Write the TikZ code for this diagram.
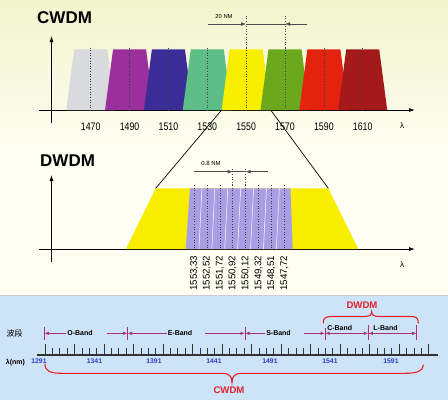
\documentclass[tikz,border=0pt]{standalone}
\usepackage{fontspec}
\setmainfont{Liberation Sans}
\setsansfont{Liberation Sans}
\newfontfamily\narrowsf[FakeStretch=0.8]{Liberation Sans}
\newfontfamily\cjkfont{Noto Sans CJK SC}
\usetikzlibrary{arrows.meta}

\begin{document}
\begin{tikzpicture}[x=1pt, y=-1pt, font=\sffamily,
  title/.style={font=\sffamily\bfseries\fontsize{17}{17}\selectfont, inner sep=0pt, anchor=west},
  chanline/.style={black!75, dotted, line width=0.6pt},
  axisline/.style={-{Latex[length=6pt,width=4pt]}, line width=0.8pt},
  dimline/.style={black!70, line width=0.45pt},
  dimtip/.style={dimline, -{Latex[length=5pt,width=3.6pt]}},
  bandline/.style={cBand, line width=0.8pt},
  bandtip/.style={bandline, -{Latex[length=4.5pt,width=3.5pt]}},
  bandtick/.style={cBand, line width=1pt},
  bandlbl/.style={font=\sffamily\bfseries\fontsize{7}{7}\selectfont, inner sep=1pt},
  scaletick/.style={black!80, line width=0.8pt},
  bracepath/.style={cBrace, line width=1.1pt, line cap=round},
  bracelbl/.style={font=\sffamily\bfseries\fontsize{9.6}{9.6}\selectfont, text=cBrace}]

% --- colors ---
\definecolor{cTop}    {HTML}{F1F4CC}
\definecolor{cMid}    {HTML}{FEFEF2}
\definecolor{cGray}   {HTML}{D9DADD}
\definecolor{cMagenta}{HTML}{9B2F9C}
\definecolor{cIndigo} {HTML}{3B2D98}
\definecolor{cTeal}   {HTML}{5DBE88}
\definecolor{cYellow} {HTML}{F7EE00}
\definecolor{cLime}   {HTML}{6BA81C}
\definecolor{cRed}    {HTML}{E4230F}
\definecolor{cDkRed}  {HTML}{A41A1A}
\definecolor{cLav}    {HTML}{A99DE3}
\definecolor{cPanel}  {HTML}{CDE3F8}
\definecolor{cBand}   {HTML}{A8326E}
\definecolor{cNum}    {HTML}{2C3FBF}
\definecolor{cBrace}  {HTML}{E82128}

\useasboundingbox (0,0) rectangle (448,400);

% --- background ---
\shade[top color=cTop, bottom color=cMid] (0,0) rectangle (448,150);
\fill[cMid] (0,150) rectangle (448,296);

% --- CWDM ---
\node[title] (cwdm) at (37,17.5) {CWDM};
\draw[axisline] (51.5,122.7) -- (51.5,36);
\draw[axisline] (39.3,110) -- (415,110);
\node[font=\sffamily\fontsize{8}{8}\selectfont] (lamA) at (402,126) {λ};

\foreach \wl/\col [count=\ci from 0] in
  {1470/cGray, 1490/cMagenta, 1510/cIndigo, 1530/cTeal,
   1550/cYellow, 1570/cLime, 1590/cRed, 1610/cDkRed}{%
  \pgfmathsetmacro{\cx}{90.7+\ci*38.86}
  \fill[\col] (\cx-24.5,110) -- (\cx-16.5,49.3) -- (\cx+16.5,49.3) -- (\cx+24.5,110) -- cycle;
  \draw[chanline] (\cx,47.5) -- (\cx,110);
  \coordinate (ch\wl) at (\cx,47.5);
  \coordinate (bl\wl) at (\cx-24.5,110);
  \coordinate (br\wl) at (\cx+24.5,110);
  \node[font=\narrowsf\fontsize{11}{11}\selectfont] (wl\wl) at (\cx,126.5) {\wl};
}

% 20 nm spacing
\coordinate (dimA) at (207.7,24);
\coordinate (dimB) at (306.7,24);
\draw[chanline] (ch1550) -- (ch1550 |- 0,16);
\draw[chanline] (ch1570) -- (ch1570 |- 0,16);
\draw[dimtip] (dimA) -- (dimA -| ch1550);
\draw[dimline] (dimA -| ch1550) -- (dimA -| ch1570);
\draw[dimtip] (dimB) -- (dimA -| ch1570);
\node[font=\sffamily\fontsize{5.8}{5.8}\selectfont] (nm20) at (224,16) {20 NM};

% --- DWDM ---
\node[title] (dwdm) at (40,160.5) {DWDM};
\draw[axisline] (51.5,261.7) -- (51.5,175);
\draw[axisline] (39.3,249) -- (415,249);
\node[font=\sffamily\fontsize{8}{8}\selectfont] (lamB) at (402,265) {λ};

\fill[cYellow] (126,249) -- (155.7,188.3) coordinate (dwL)
  -- (328.3,188.3) coordinate (dwR) -- (358.3,249) -- cycle;
\fill[cLav] (185.7,249) -- (190,188.3) -- (290.5,188.3) -- (292.7,249) -- cycle;
\foreach \k in {0,...,6}{%
  \pgfmathsetmacro{\mx}{200.45+\k*12.9}
  \draw[white, line width=0.5pt] (\mx+1.5,188.3) -- (\mx-1.5,249);
}

% zoom lines
\draw[line width=0.7pt] (bl1550) -- (dwL);
\draw[line width=0.7pt] (br1550) -- (dwR);

\foreach \wl [count=\ci from 0] in
  {{1553,33},{1552,52},{1551,72},{1550,92},{1550,12},{1549,32},{1548,51},{1547,72}}{%
  \pgfmathsetmacro{\dx}{194+\ci*12.9}
  \draw[chanline] (\dx,185) -- (\dx,249);
  \coordinate (dch\ci) at (\dx,185);
  \node[rotate=90, anchor=east, inner sep=0pt, font=\sffamily\fontsize{9.7}{9.7}\selectfont]
    (dl\ci) at (\dx,255.5) {\wl};
}

% 0.8 nm spacing
\coordinate (dimC) at (194,171.7);
\coordinate (dimD) at (268,171.7);
\draw[chanline] (dch3) -- (dch3 |- 0,167);
\draw[chanline] (dch4) -- (dch4 |- 0,167);
\draw[dimtip] (dimC) -- (dimC -| dch3);
\draw[dimline] (dimC -| dch3) -- (dimC -| dch4);
\draw[dimtip] (dimD) -- (dimC -| dch4);
\node[font=\sffamily\fontsize{6}{6}\selectfont] (nm08) at (211,163.3) {0.8 NM};

% --- band panel ---
\fill[cPanel] (0,295) rectangle (448,400);
\draw[black!20, line width=0.6pt] (0,295) -- (448,295);

\node[font=\cjkfont\fontsize{8}{8}\selectfont] (bandT) at (14.5,333) {波段};
\node[font=\sffamily\bfseries\fontsize{7}{7}\selectfont] (lamT) at (15.5,363) {λ(nm)};

% scale
\draw[black!80, line width=1.6pt] (36.7,354.7) -- (438.3,354.7);
\foreach \k in {0,...,52}{%
  \pgfmathsetmacro{\tx}{45+\k*7.38}
  \pgfmathsetmacro{\th}{ifthenelse(mod(\k,4)==0, 11, 6.7)}
  \draw[scaletick] (\tx,354.7) -- (\tx,354.7-\th);
}
\foreach \num/\nx in {1291/39, 1341/94.5, 1391/154, 1441/214, 1491/270, 1541/330, 1591/391}{%
  \node[font=\sffamily\bfseries\fontsize{6.8}{6.8}\selectfont, text=cNum] (n\num) at (\nx,361.5) {\num};
}

% bands
\foreach \bx/\bn/\btop in {44.3/b0/327, 127.5/b1/327, 245/b2/327, 325/b3/328, 368.3/b4/325, 416.7/b5/325}{%
  \coordinate (\bn) at (\bx,333.3);
  \draw[bandtick] (\bx,\btop) -- (\bx,340);
}
\node[bandlbl] (oband) at (80,333.3) {O-Band};
\node[bandlbl] (eband) at (180,333.3) {E-Band};
\node[bandlbl] (sband) at (278.5,333.3) {S-Band};
\node[bandlbl] (cband) at (339.7,327.7) {C-Band};
\node[bandlbl] (lband) at (385.5,327.7) {L-Band};

\draw[bandtip] (oband.west) -- (b0);
\draw[bandtip] ([xshift=13pt]oband.east) -- (b1);
\draw[bandtip] (eband.west) -- (b1);
\draw[bandtip] ([xshift=12pt]eband.east) -- (b2);
\draw[bandtip] (sband.west) -- (b2);
\draw[bandtip] ([xshift=12pt]sband.east) -- (b3);
\draw[bandline, {Latex[length=4.5pt,width=3.5pt]}-{Latex[length=4.5pt,width=3.5pt]}] (b3) -- (b4);
\draw[bandline, {Latex[length=4.5pt,width=3.5pt]}-{Latex[length=4.5pt,width=3.5pt]}] (b4) -- (b5);

% braces
\draw[bracepath] (323.3,323) .. controls (323.3,317.5) and (326,316.5) .. (332,316.5)
  -- (364,316.5) .. controls (369.5,316.5) and (371.7,315) .. (371.7,311.7)
  .. controls (371.7,315) and (374,316.5) .. (379.5,316.5)
  -- (410,316.5) .. controls (416,316.5) and (418.3,317.5) .. (418.3,323);
\node[bracelbl] (dwdmB) at (362,305) {DWDM};

\draw[bracepath] (45,364) .. controls (45,371) and (50,373.3) .. (62,373.3)
  -- (222,373.3) .. controls (229,373.3) and (232,376) .. (232,382.5)
  .. controls (232,376) and (235,373.3) .. (242,373.3)
  -- (405,373.3) .. controls (417,373.3) and (423.3,371) .. (423.3,365);
\node[bracelbl] (cwdmB) at (229,390) {CWDM};

\end{tikzpicture}
\end{document}
